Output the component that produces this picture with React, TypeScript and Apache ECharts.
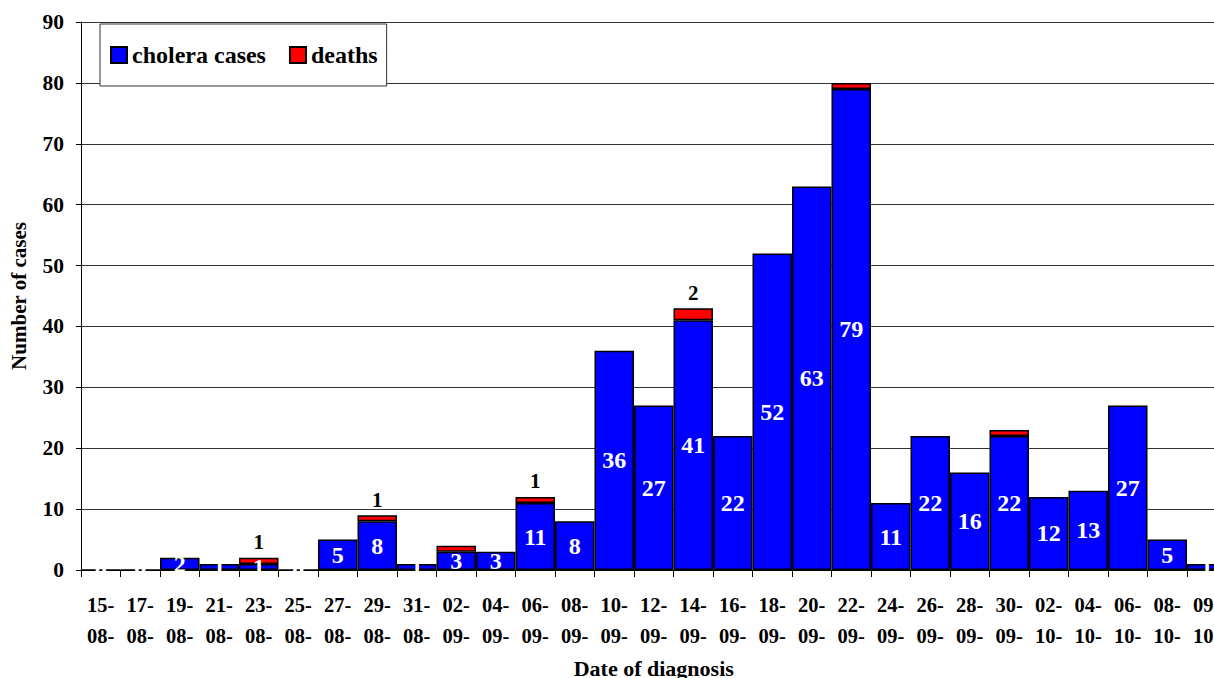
import React, { useEffect, useRef } from "react";
import * as echarts from "echarts";

const categories = [
  "15-08", "17-08", "19-08", "21-08", "23-08", "25-08", "27-08", "29-08", "31-08",
  "02-09", "04-09", "06-09", "08-09", "10-09", "12-09", "14-09", "16-09", "18-09",
  "20-09", "22-09", "24-09", "26-09", "28-09", "30-09", "02-10", "04-10", "06-10",
  "08-10", "09-10",
];
const choleraCases = [
  0, 0, 2, 1, 1, 0, 5, 8, 1,
  3, 3, 11, 8, 36, 27, 41, 22, 52,
  63, 79, 11, 22, 16, 22, 12, 13, 27,
  5, 1,
];
const deaths = [
  0, 0, 0, 0, 1, 0, 0, 1, 0,
  1, 0, 1, 0, 0, 0, 2, 0, 0,
  0, 1, 0, 0, 0, 1, 0, 0, 0,
  0, 0,
];
// which death counts carry a printed label in the original
const deathLabelShown = [
  false, false, false, false, true, false, false, true, false,
  false, false, true, false, false, false, true, false, false,
  false, false, false, false, false, false, false, false, false,
  false, false,
];
const yTicks = { min: 0, max: 90, interval: 10 };

const FONT = "Liberation Serif";

export default function App() {
  const ref = useRef<HTMLDivElement>(null);
  useEffect(() => {
    if (!ref.current) return;
    const chart = echarts.init(ref.current, null, { renderer: "svg" });
    chart.setOption({
      animation: false,
      backgroundColor: "#fff",
      textStyle: { fontFamily: FONT },
      grid: {
        left: 81,
        top: 22,
        right: 5.5,
        bottom: 108,
        containLabel: false,
        outerBoundsMode: "none",
      },
      legend: {
        left: 100,
        top: 24,
        orient: "horizontal",
        backgroundColor: "#fff",
        borderColor: "#333",
        borderWidth: 1,
        padding: [19, 9, 19, 10],
        itemGap: 23,
        itemWidth: 16,
        itemHeight: 16,
        icon: "rect",
        textStyle: { fontFamily: FONT, fontWeight: "bold", fontSize: 24, color: "#000" },
        data: ["cholera cases", "deaths"],
      },
      xAxis: {
        type: "category",
        data: categories,
        boundaryGap: true,
        name: "Date of diagnosis",
        nameLocation: "middle",
        nameGap: 87,
        nameTextStyle: { fontFamily: FONT, fontWeight: "bold", fontSize: 22, color: "#000" },
        axisLine: { lineStyle: { color: "#000", width: 1 } },
        axisTick: { show: true, interval: 0, length: 7, lineStyle: { color: "#000" } },
        axisLabel: {
          interval: 0,
          margin: 19,
          lineHeight: 31,
          fontFamily: FONT,
          fontWeight: "bold",
          fontSize: 20.5,
          color: "#000",
          formatter: (v: string) => {
            const [d, m] = v.split("-");
            return d + "-\n" + m + "-";
          },
        },
      },
      yAxis: {
        type: "value",
        min: yTicks.min,
        max: yTicks.max,
        interval: yTicks.interval,
        name: "Number of cases",
        nameLocation: "middle",
        nameGap: 52,
        nameRotate: 90,
        nameTextStyle: { fontFamily: FONT, fontWeight: "bold", fontSize: 21, color: "#000" },
        axisLine: { show: true, lineStyle: { color: "#000", width: 1 } },
        axisTick: { show: true, length: 5, lineStyle: { color: "#000" } },
        axisLabel: {
          margin: 17,
          fontFamily: FONT,
          fontWeight: "bold",
          fontSize: 21.5,
          color: "#000",
        },
        splitLine: { show: true, lineStyle: { color: "#333", width: 1 } },
      },
      series: [
        {
          name: "cholera cases",
          type: "bar",
          stack: "total",
          barCategoryGap: "0%",
          data: choleraCases,
          itemStyle: { color: "#0000ff", borderColor: "#000", borderWidth: 1.5 },
          label: {
            show: true,
            position: "inside",
            fontFamily: FONT,
            fontWeight: "bold",
            fontSize: 24,
            color: "#fff",
          },
        },
        {
          name: "deaths",
          type: "bar",
          stack: "total",
          barCategoryGap: "0%",
          data: deaths.map((v, i) =>
            v === 0
              ? null
              : {
                  value: v,
                  label: { show: deathLabelShown[i] },
                }
          ),
          itemStyle: { color: "#ff0000", borderColor: "#000", borderWidth: 1.5 },
          label: {
            show: false,
            position: "top",
            distance: 5,
            fontFamily: FONT,
            fontWeight: "bold",
            fontSize: 21,
            color: "#000",
          },
        },
      ],
    });
    return () => chart.dispose();
  }, []);
  return (
    <div
      style={{
        position: "fixed",
        left: 0,
        top: 0,
        width: 1214,
        height: 678,
        overflow: "hidden",
        background: "#fff",
      }}
    >
      <div ref={ref} style={{ width: 1232, height: 678 }} />
    </div>
  );
}
